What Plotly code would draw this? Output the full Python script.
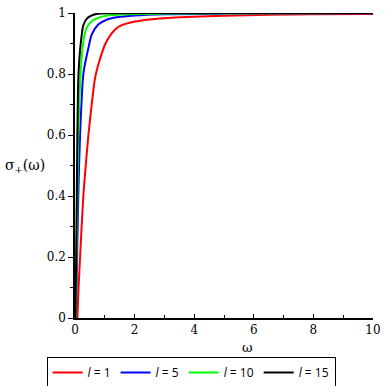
import plotly.graph_objects as go

# Data
w_l1 = [0.08, 0.12, 0.17, 0.28, 0.36, 0.45, 0.56, 0.67, 0.78, 0.89, 1.0, 1.17, 1.34, 1.5, 2.0, 2.5, 3.0, 3.75, 5.0, 6.5, 8.0, 10.0]
s_l1 = [0.0, 0.1, 0.2, 0.4, 0.5, 0.6, 0.7, 0.785, 0.83, 0.865, 0.895, 0.925, 0.945, 0.957, 0.972, 0.979, 0.983, 0.987, 0.991, 0.994, 0.996, 0.997]

w_l5 = [0.03, 0.07, 0.11, 0.17, 0.28, 0.34, 0.45, 0.56, 0.78, 1.06, 1.4, 2.0, 3.0, 5.0, 10.0]
s_l5 = [0.0, 0.2, 0.4, 0.6, 0.8, 0.835, 0.885, 0.929, 0.962, 0.978, 0.986, 0.992, 0.996, 0.998, 0.999]

w_l10 = [0.02, 0.05, 0.08, 0.11, 0.2, 0.28, 0.39, 0.56, 0.94, 1.5, 3.0, 10.0]
s_l10 = [0.0, 0.2, 0.4, 0.6, 0.82, 0.907, 0.951, 0.973, 0.989, 0.995, 0.998, 1.0]

w_l15 = [0.01, 0.04, 0.06, 0.08, 0.11, 0.14, 0.2, 0.28, 0.41, 0.72, 1.2, 3.0, 10.0]
s_l15 = [0.0, 0.2, 0.4, 0.6, 0.78, 0.84, 0.907, 0.96, 0.983, 0.997, 0.999, 1.0, 1.0]

series = [
    ("<i>l</i> = 1", w_l1, s_l1, "#ff0000"),
    ("<i>l</i> = 5", w_l5, s_l5, "#0000ff"),
    ("<i>l</i> = 10", w_l10, s_l10, "#00ff00"),
    ("<i>l</i> = 15", w_l15, s_l15, "#000000"),
]

x_ticks = [0, 2, 4, 6, 8, 10]
y_ticks = [0, 0.2, 0.4, 0.6, 0.8, 1]
y_tick_labels = ["0", "0.2", "0.4", "0.6", "0.8", "1"]

FONT = "DejaVu Serif"
LEGEND_FONT = "Open Sans"

fig = go.Figure()
for name, xs, ys, col in series:
    fig.add_trace(go.Scatter(x=xs, y=ys, mode="lines", name=name,
                             line=dict(color=col, width=2, shape="spline", smoothing=0.8)))

fig.update_layout(
    width=386, height=386,
    margin=dict(l=75, r=13, t=13, b=68, autoexpand=False),
    plot_bgcolor="white", paper_bgcolor="white",
    font=dict(family=FONT, size=12, color="black"),
    showlegend=True,
    legend=dict(orientation="h", xref="container", yref="paper",
                x=0.495, xanchor="center", y=-0.128, yanchor="top",
                bordercolor="black", borderwidth=1, bgcolor="white",
                font=dict(family=LEGEND_FONT, size=12), itemwidth=30,
                tracegroupgap=0),
    xaxis=dict(range=[0, 10], tickvals=x_ticks, ticks="inside", ticklen=4,
               tickcolor="black", showline=True, linecolor="black", linewidth=1.5,
               showgrid=False, zeroline=False, automargin=False,
               tickfont=dict(family=FONT, size=12),
               minor=dict(dtick=1, ticks="inside", ticklen=3, tickcolor="black")),
    yaxis=dict(range=[0, 1], tickvals=y_ticks, ticktext=y_tick_labels,
               ticks="outside", ticklen=5, tickcolor="black",
               showline=True, linecolor="black", linewidth=1.5,
               showgrid=False, zeroline=False, automargin=False,
               tickfont=dict(family=FONT, size=12),
               minor=dict(dtick=0.1, ticks="outside", ticklen=3, tickcolor="black")),
    annotations=[
        dict(text="σ<sub>+</sub>(ω)", xref="paper", yref="paper",
             x=-0.095, y=0.5, xanchor="right", yanchor="middle",
             showarrow=False, font=dict(family=FONT, size=14)),
        dict(text="ω", xref="paper", yref="paper",
             x=0.58, y=-0.098, xanchor="center", yanchor="middle",
             showarrow=False, font=dict(family=FONT, size=13)),
    ],
)

fig.write_html("out.html", config={"displayModeBar": False},
               post_script="document.body.style.margin='0';document.body.style.padding='0';")
